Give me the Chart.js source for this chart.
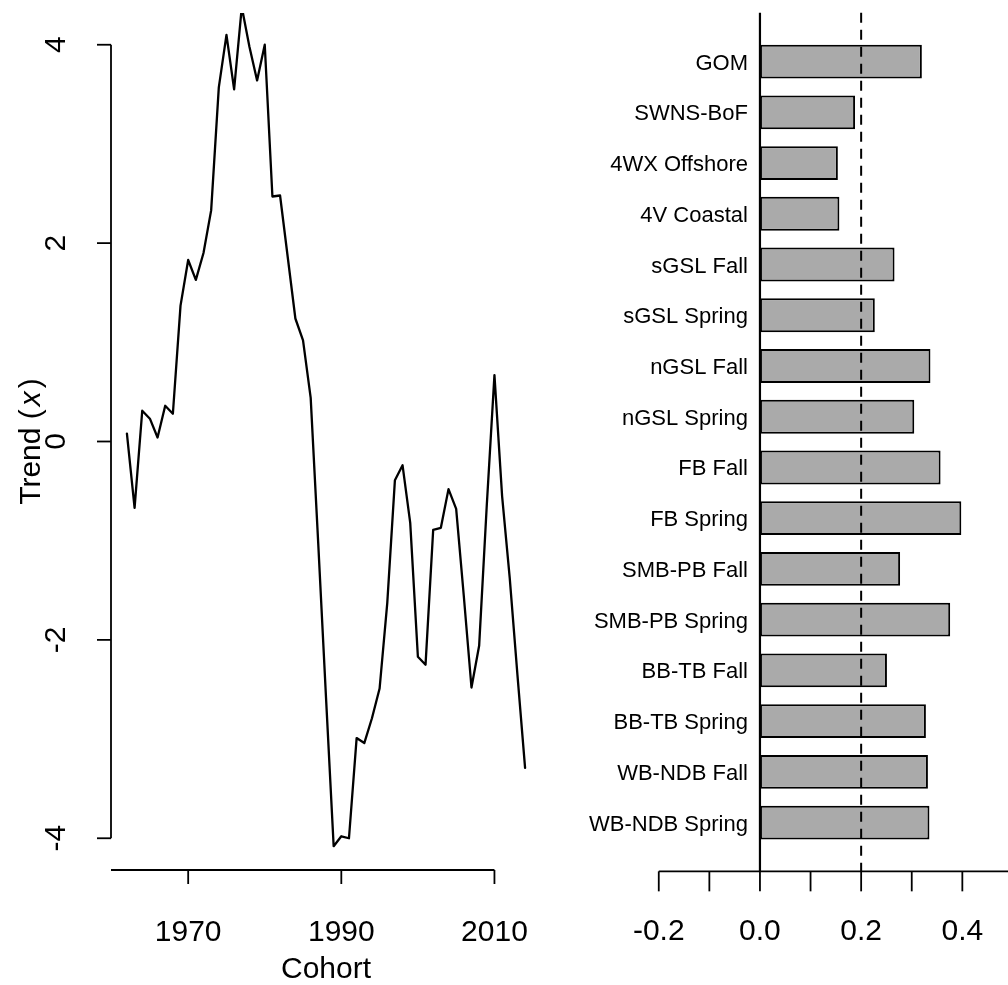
<!DOCTYPE html>
<html>
<head>
<meta charset="utf-8">
<script src="https://cdn.jsdelivr.net/npm/chart.js@4/dist/chart.umd.min.js"></script>
<style>
  html, body { margin: 0; padding: 0; background: #fff; width: 1008px; height: 985px; overflow: hidden; }
  canvas { position: absolute; top: 0; }
  #trend { left: 0; }
  #bars { left: 560px; }
</style>
</head>
<body>
<canvas id="trend" width="560" height="985"></canvas>
<canvas id="bars" width="480" height="985"></canvas>
<script>
// ---- Common trend by cohort year ----
const cohortYears = [
  1962, 1963, 1964, 1965, 1966, 1967, 1968, 1969, 1970, 1971,
  1972, 1973, 1974, 1975, 1976, 1977, 1978, 1979, 1980, 1981,
  1982, 1983, 1984, 1985, 1986, 1987, 1988, 1989, 1990, 1991,
  1992, 1993, 1994, 1995, 1996, 1997, 1998, 1999, 2000, 2001,
  2002, 2003, 2004, 2005, 2006, 2007, 2008, 2009, 2010, 2011,
  2012, 2013, 2014
];
const trendValues = [
   0.08, -0.67,  0.31,  0.23,  0.04,  0.36,  0.28,  1.37,  1.83,  1.63,
   1.90,  2.33,  3.57,  4.10,  3.55,  4.38,  3.98,  3.64,  4.00,  2.47,
   2.48,  1.86,  1.24,  1.02,  0.44, -1.05, -2.58, -4.08, -3.98, -4.00,
  -2.99, -3.04, -2.79, -2.49, -1.63, -0.39, -0.24, -0.82, -2.17, -2.25,
  -0.89, -0.87, -0.48, -0.68, -1.56, -2.48, -2.06, -0.64,  0.67, -0.55,
  -1.38, -2.35, -3.29
];
const cohortTicks = [1950, 1970, 1990, 2010];
const trendTicks = [-4, -2, 0, 2, 4];
const trendLimits = [-4, 4];

// ---- Loadings by survey ----
const surveyNames = [
  'GOM', 'SWNS-BoF', '4WX Offshore', '4V Coastal',
  'sGSL Fall', 'sGSL Spring', 'nGSL Fall', 'nGSL Spring',
  'FB Fall', 'FB Spring', 'SMB-PB Fall', 'SMB-PB Spring',
  'BB-TB Fall', 'BB-TB Spring', 'WB-NDB Fall', 'WB-NDB Spring'
];
const surveyValues = [
  0.320, 0.188, 0.154, 0.157,
  0.266, 0.227, 0.337, 0.305,
  0.357, 0.398, 0.277, 0.376,
  0.251, 0.328, 0.332, 0.335
];
const loadingTicks = [-0.2, -0.1, 0.0, 0.1, 0.2, 0.3, 0.4, 0.5];
const loadingTickLabels = ['-0.2', '', '0.0', '', '0.2', '', '0.4', ''];
const loadingLimits = [-0.2, 0.5];
const referenceLoading = 0.2;

const FONT = '"Liberation Sans", Arial, Helvetica, sans-serif';

// extend a range by 4% on each side, like a default R axis
function widen(lims) {
  const d = (lims[1] - lims[0]) * 0.04;
  return [lims[0] - d, lims[1] + d];
}

function seg(ctx, x0, y0, x1, y1) {
  ctx.beginPath();
  ctx.moveTo(x0, y0);
  ctx.lineTo(x1, y1);
  ctx.stroke();
}

// axes, ticks and titles of the trend panel
const trendAxes = {
  id: 'trendAxes',
  afterDraw(chart) {
    const { ctx, chartArea: a, scales: { x, y } } = chart;
    ctx.save();
    ctx.strokeStyle = '#000';
    ctx.fillStyle = '#000';
    ctx.lineWidth = 1.8;
    ctx.lineCap = 'butt';

    // bottom axis
    const base = a.bottom;
    const xa = Math.max(x.getPixelForValue(cohortTicks[0]), a.left);
    const xb = Math.min(x.getPixelForValue(cohortTicks[cohortTicks.length - 1]), a.right);
    seg(ctx, xa, base, xb, base);
    ctx.font = '30px ' + FONT;
    ctx.textAlign = 'center';
    ctx.textBaseline = 'alphabetic';
    cohortTicks.forEach(t => {
      if (t < x.min || t > x.max) return;
      const px = x.getPixelForValue(t);
      seg(ctx, px, base, px, base + 14);
      ctx.fillText(String(t), px, base + 71);
    });
    ctx.fillText('Cohort', (a.left + a.right) / 2, base + 108);

    // left axis
    const left = a.left;
    seg(ctx, left, y.getPixelForValue(trendTicks[0]), left, y.getPixelForValue(trendTicks[trendTicks.length - 1]));
    trendTicks.forEach(t => {
      const py = y.getPixelForValue(t);
      seg(ctx, left - 14, py, left, py);
      ctx.save();
      ctx.translate(left - 46, py);
      ctx.rotate(-Math.PI / 2);
      ctx.fillText(String(t), 0, 0);
      ctx.restore();
    });

    // axis title: Trend (x) with an italic x
    const parts = [
      ['Trend (', '30px ' + FONT],
      ['x', 'italic 30px ' + FONT],
      [')', '30px ' + FONT]
    ];
    const gap = 3;
    let total = 0;
    parts.forEach(([s, f]) => { ctx.font = f; total += ctx.measureText(s).width; });
    total += gap * 2;
    ctx.save();
    ctx.translate(left - 71, (a.top + a.bottom) / 2);
    ctx.rotate(-Math.PI / 2);
    ctx.textAlign = 'left';
    let cx = -total / 2;
    parts.forEach(([s, f], i) => {
      ctx.font = f;
      ctx.fillText(s, cx, 0);
      cx += ctx.measureText(s).width + (i < parts.length - 1 ? gap : 0);
    });
    ctx.restore();
    ctx.restore();
  }
};

// axis, reference lines and survey names of the loadings panel
const loadingAxes = {
  id: 'loadingAxes',
  afterDraw(chart) {
    const { ctx, chartArea: a, scales: { x, y } } = chart;
    const slot = (a.bottom - a.top) / surveyNames.length;
    const inset = slot * 0.46;
    const top = a.top - inset;
    const bottom = a.bottom + inset;
    ctx.save();
    ctx.strokeStyle = '#000';
    ctx.fillStyle = '#000';

    // zero line
    ctx.lineWidth = 2.2;
    const zx = x.getPixelForValue(0);
    seg(ctx, zx, top, zx, bottom);

    // reference line
    const rx = x.getPixelForValue(referenceLoading);
    ctx.lineWidth = 2;
    ctx.setLineDash([10, 7]);
    seg(ctx, rx, top, rx, bottom);
    ctx.setLineDash([]);

    // bottom axis
    ctx.lineWidth = 1.8;
    const xa = Math.max(x.getPixelForValue(loadingTicks[0]), a.left);
    const xb = Math.min(x.getPixelForValue(loadingTicks[loadingTicks.length - 1]), chart.width);
    seg(ctx, xa, bottom, xb, bottom);
    ctx.font = '30px ' + FONT;
    ctx.textAlign = 'center';
    ctx.textBaseline = 'alphabetic';
    loadingTicks.forEach((t, i) => {
      const px = x.getPixelForValue(t);
      seg(ctx, px, bottom, px, bottom + 20);
      if (loadingTickLabels[i]) ctx.fillText(loadingTickLabels[i], px, bottom + 69);
    });

    // survey names beside the bars
    ctx.font = '22px ' + FONT;
    ctx.textAlign = 'right';
    surveyNames.forEach((name, i) => {
      const py = y.getPixelForValue(i);
      ctx.fillText(name, zx - 12, py + 8);
    });
    ctx.restore();
  }
};

const trendRange = widen(trendLimits);
const yearRange = widen([Math.min(...cohortYears), Math.max(...cohortYears)]);

new Chart(document.getElementById('trend'), {
  type: 'line',
  data: {
    datasets: [{
      data: cohortYears.map((yr, i) => ({ x: yr, y: trendValues[i] })),
      borderColor: '#000',
      borderWidth: 2.3,
      borderJoinStyle: 'round',
      borderCapStyle: 'round',
      pointRadius: 0,
      tension: 0,
      fill: false,
      clip: 0
    }]
  },
  options: {
    responsive: false,
    animation: false,
    events: [],
    layout: { padding: { left: 111, right: 19, top: 13, bottom: 115 } },
    plugins: { legend: { display: false }, tooltip: { enabled: false } },
    scales: {
      x: { type: 'linear', display: false, min: yearRange[0], max: yearRange[1] },
      y: { type: 'linear', display: false, min: trendRange[0], max: trendRange[1] }
    }
  },
  plugins: [trendAxes]
});

const loadingRange = widen(loadingLimits);

new Chart(document.getElementById('bars'), {
  type: 'bar',
  data: {
    labels: surveyNames,
    datasets: [{
      data: surveyValues,
      backgroundColor: '#aaaaaa',
      borderColor: '#000',
      borderWidth: 2,
      borderSkipped: false,
      categoryPercentage: 2 / 3,
      barPercentage: 1
    }]
  },
  options: {
    indexAxis: 'y',
    responsive: false,
    animation: false,
    events: [],
    layout: { padding: { left: 84.6, right: 12.9, top: 36.2, bottom: 137 } },
    plugins: { legend: { display: false }, tooltip: { enabled: false } },
    scales: {
      x: { type: 'linear', display: false, min: loadingRange[0], max: loadingRange[1] },
      y: { type: 'category', display: false, offset: true }
    }
  },
  plugins: [loadingAxes]
});
</script>
</body>
</html>
